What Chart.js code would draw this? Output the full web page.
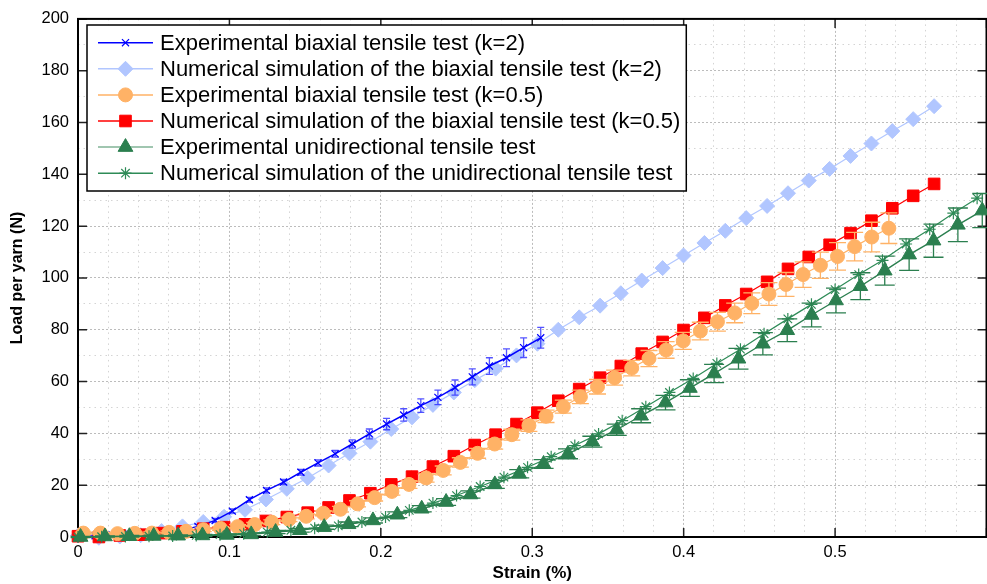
<!DOCTYPE html>
<html>
<head>
<meta charset="utf-8">
<script src="https://cdn.jsdelivr.net/npm/chart.js@4.4.1/dist/chart.umd.min.js"></script>
<style>
  html, body { margin: 0; padding: 0; background: #fff; overflow: hidden; }
  #wrap { width: 996px; height: 584px; }
</style>
</head>
<body>
<div id="wrap"><canvas id="chart" width="996" height="584"></canvas></div>
<script>
// legend text, in plot order
const legendLabels = [
    "Experimental biaxial tensile test (k=2)",
    "Numerical simulation of the biaxial tensile test (k=2)",
    "Experimental biaxial tensile test (k=0.5)",
    "Numerical simulation of the biaxial tensile test (k=0.5)",
    "Experimental unidirectional tensile test",
    "Numerical simulation of the unidirectional tensile test",
];

// experimental biaxial, k=2 (strain %, load N, +/- error N)
const strainExpK2 = [0, 0.0113, 0.0226, 0.034, 0.0453, 0.0566, 0.0679, 0.0792, 0.0906, 0.1019,
    0.1132, 0.1245, 0.1358, 0.1472, 0.1585, 0.1698, 0.1811, 0.1924, 0.2038, 0.2151,
    0.2264, 0.2377, 0.249, 0.2604, 0.2717, 0.283, 0.2943, 0.3056];
const loadExpK2 = [0, 0.5, 0.8, 1.0, 1.2, 1.6, 2.5, 4.1, 6.4, 10.0,
    14.4, 18.0, 21.2, 25.0, 28.6, 32.1, 35.9, 39.8, 43.6, 47.1,
    50.7, 53.9, 57.7, 61.8, 66.0, 69.2, 73.1, 76.9];
const errExpK2 = [0.3, 0.4, 0.4, 0.5, 0.5, 0.6, 0.6, 0.7, 0.8, 0.8,
    0.9, 1.0, 1.0, 1.1, 1.2, 1.3, 1.6, 1.9, 2.2, 2.4,
    2.6, 2.8, 2.9, 3.1, 3.2, 3.4, 3.8, 4.0];

// numerical simulations of the biaxial test share the same strain steps
const strainNum = [0, 0.0138, 0.0276, 0.0414, 0.0552, 0.069, 0.0827, 0.0965, 0.1103, 0.1241,
    0.1379, 0.1517, 0.1655, 0.1793, 0.1931, 0.2069, 0.2206, 0.2344, 0.2482, 0.262,
    0.2758, 0.2896, 0.3034, 0.3172, 0.331, 0.3448, 0.3585, 0.3723, 0.3861, 0.3999,
    0.4137, 0.4275, 0.4413, 0.4551, 0.4689, 0.4826, 0.4964, 0.5102, 0.524, 0.5378,
    0.5516, 0.5654];
const loadNumK2 = [0.6, -0.3, 0.2, 0.7, 2.3, 4.1, 5.8, 7.8, 10.5, 14.5,
    18.6, 22.8, 27.6, 32.3, 36.8, 41.7, 46.2, 51.0, 55.8, 60.5,
    65.0, 70.1, 74.6, 80.0, 84.8, 89.3, 94.1, 99.0, 103.8, 108.7,
    113.5, 118.2, 123.1, 127.8, 132.7, 137.6, 142.1, 147.1, 151.9, 156.7,
    161.3, 166.3];
const loadNumK05 = [0.3, 0, 0.6, 0.9, 1.5, 2.2, 3.2, 3.8, 4.9, 6.2,
    7.7, 9.4, 11.4, 14.1, 16.9, 20.3, 23.3, 27.2, 31.2, 35.5,
    39.5, 43.6, 48.0, 52.6, 57.1, 61.5, 66.0, 70.8, 75.3, 79.9,
    84.6, 89.4, 93.8, 98.5, 103.5, 108.1, 112.8, 117.3, 122.1, 126.9,
    131.7, 136.3];

// experimental biaxial, k=0.5
const strainExpK05 = [0.0035, 0.0148, 0.0261, 0.0375, 0.0488, 0.0601, 0.0714, 0.0827, 0.0941, 0.1054,
    0.1167, 0.128, 0.1393, 0.1507, 0.162, 0.1733, 0.1846, 0.1959, 0.2073, 0.2186,
    0.2299, 0.2412, 0.2525, 0.2639, 0.2752, 0.2865, 0.2978, 0.3091, 0.3205, 0.3318,
    0.3431, 0.3544, 0.3657, 0.3771, 0.3884, 0.3997, 0.411, 0.4223, 0.4337, 0.445,
    0.4563, 0.4676, 0.4789, 0.4903, 0.5016, 0.5129, 0.5242, 0.5355];
const loadExpK05 = [1.5, 1.5, 1.3, 1.4, 1.5, 1.8, 2.2, 2.8, 3.3, 4.0,
    4.8, 5.7, 6.8, 8.0, 9.2, 10.7, 12.8, 15.2, 17.6, 20.3,
    22.8, 25.7, 28.8, 32.3, 35.9, 39.5, 43.0, 46.6, 50.3, 54.1,
    58.0, 61.5, 65.2, 68.9, 72.2, 75.7, 79.5, 83.1, 86.5, 90.2,
    93.8, 97.5, 101.3, 104.9, 108.3, 112.1, 115.8, 119.2];
const errExpK05 = [0.4, 0.4, 0.5, 0.5, 0.5, 0.6, 0.6, 0.7, 0.7, 0.8,
    0.8, 0.9, 0.9, 1.0, 1.0, 1.1, 1.2, 1.3, 1.4, 1.5,
    1.6, 1.7, 1.8, 1.9, 2.0, 2.1, 2.2, 2.4, 2.5, 2.6,
    2.8, 2.9, 3.0, 3.1, 3.2, 3.3, 3.4, 3.6, 3.8, 4.0,
    4.4, 4.6, 4.9, 5.1, 5.3, 5.5, 5.7, 5.9];

// experimental unidirectional
const strainExpUni = [0.0017, 0.0178, 0.0339, 0.05, 0.0661, 0.0822, 0.0983, 0.1144, 0.1305, 0.1465,
    0.1626, 0.1787, 0.1948, 0.2109, 0.227, 0.2431, 0.2592, 0.2753, 0.2914, 0.3075,
    0.3236, 0.3397, 0.3558, 0.3719, 0.388, 0.4041, 0.4201, 0.4362, 0.4523, 0.4684,
    0.4845, 0.5006, 0.5167, 0.5328, 0.5489, 0.565, 0.5811, 0.5972];
const loadExpUni = [0, 0.2, 0.3, 0.4, 0.5, 0.6, 0.8, 1.0, 1.9, 2.6,
    3.8, 4.9, 6.4, 8.6, 10.9, 13.5, 16.4, 20.3, 24.4, 28.2,
    32.1, 36.8, 41.4, 46.8, 51.9, 57.5, 63.1, 68.8, 74.6, 79.8,
    85.7, 91.3, 96.8, 102.8, 109.0, 114.4, 120.5, 126.0];
const errExpUni = [0.2, 0.2, 0.3, 0.3, 0.3, 0.4, 0.4, 0.5, 0.6, 0.7,
    0.8, 0.9, 1.0, 1.1, 1.2, 1.3, 1.4, 1.5, 1.6, 1.7,
    1.9, 2.1, 2.2, 2.7, 2.8, 3.2, 3.5, 4.0, 4.3, 4.4,
    4.6, 4.8, 5.2, 5.6, 6.1, 6.4, 6.5, 6.6];

// numerical unidirectional
const strainNumUni = [0, 0.0156, 0.0313, 0.0469, 0.0625, 0.0781, 0.0938, 0.1094, 0.125, 0.1406,
    0.1563, 0.1719, 0.1875, 0.2031, 0.2188, 0.2344, 0.25, 0.2656, 0.2813, 0.2969,
    0.3125, 0.3281, 0.3438, 0.3594, 0.375, 0.3906, 0.4063, 0.4219, 0.4375, 0.4531,
    0.4688, 0.4844, 0.5, 0.5156, 0.5313, 0.5469, 0.5625, 0.5781, 0.5938];
const loadNumUni = [0, 0.1, 0.2, 0.3, 0.4, 0.6, 0.9, 1.3, 1.9, 2.6,
    3.4, 4.3, 5.8, 7.7, 10.3, 13.1, 16.0, 19.5, 23.1, 26.9,
    31.0, 35.3, 39.8, 44.9, 50.3, 55.8, 61.2, 67.0, 72.5, 78.5,
    84.2, 89.8, 95.5, 101.3, 106.8, 113.1, 118.8, 125.0, 130.8];

const FONT = "'Liberation Sans', Arial, Helvetica, sans-serif";
const MAJOR_GRID = "#bcbcbc";
const MINOR_GRID = "#d4d4d4";

function pts(xs, ys) {
    return xs.map((x, i) => ({ x: x, y: ys[i] }));
}
const isMajorX = v => Math.round(v * 100) % 10 === 0;
const isMajorY = v => Math.round(v) % 20 === 0;

// vertical error bars with caps, drawn under each dataset's markers
const errorBars = {
    id: "errorBars",
    beforeDatasetDraw(chart, args) {
        const ds = chart.data.datasets[args.index];
        if (!ds.errors) return;
        const { ctx, scales: { x, y } } = chart;
        ctx.save();
        ctx.strokeStyle = ds.errorColor;
        ctx.lineWidth = 1.3;
        ctx.beginPath();
        ds.data.forEach((p, i) => {
            const e = ds.errors[i];
            const px = x.getPixelForValue(p.x);
            const top = y.getPixelForValue(p.y + e);
            const bot = y.getPixelForValue(p.y - e);
            const w = ds.capWidth;
            ctx.moveTo(px, top); ctx.lineTo(px, bot);
            ctx.moveTo(px - w, top); ctx.lineTo(px + w, top);
            ctx.moveTo(px - w, bot); ctx.lineTo(px + w, bot);
        });
        ctx.stroke();
        ctx.restore();
    },
};

// matlab-like box with inward ticks
const frame = {
    id: "frame",
    beforeDatasetsDraw(chart) {
        const { ctx, chartArea: a, scales: { x, y } } = chart;
        ctx.save();
        ctx.strokeStyle = "#222";
        ctx.lineWidth = 1.5;
        ctx.beginPath();
        x.ticks.filter(t => isMajorX(t.value)).forEach(t => {
            const px = x.getPixelForValue(t.value);
            ctx.moveTo(px, a.bottom); ctx.lineTo(px, a.bottom - 9);
            ctx.moveTo(px, a.top); ctx.lineTo(px, a.top + 9);
        });
        y.ticks.filter(t => isMajorY(t.value)).forEach(t => {
            const py = y.getPixelForValue(t.value);
            ctx.moveTo(a.left, py); ctx.lineTo(a.left + 9, py);
            ctx.moveTo(a.right, py); ctx.lineTo(a.right - 9, py);
        });
        ctx.stroke();
        ctx.strokeStyle = "#000";
        ctx.lineWidth = 2;
        ctx.strokeRect(a.left, a.top, a.right - a.left, a.bottom - a.top);
        ctx.restore();
    },
};

// boxed legend in the upper left corner, line + marker samples
const boxLegend = {
    id: "boxLegend",
    afterDraw(chart) {
        const ctx = chart.ctx;
        const sets = chart.data.datasets;
        const left = 87, top = 25, rowH = 26.1, firstRow = 42.7;
        const textX = 160;
        ctx.save();
        ctx.font = "22px " + FONT;
        let maxW = 0;
        sets.forEach(ds => { maxW = Math.max(maxW, ctx.measureText(ds.label).width); });
        const right = textX + maxW + 6;
        const bottom = top + 166;
        ctx.fillStyle = "#fff";
        ctx.fillRect(left, top, right - left, bottom - top);
        ctx.strokeStyle = "#000";
        ctx.lineWidth = 1.5;
        ctx.strokeRect(left, top, right - left, bottom - top);
        sets.forEach((ds, i) => {
            const cy = firstRow + i * rowH;
            ctx.strokeStyle = ds.legendLine || ds.borderColor;
            ctx.lineWidth = 1.5;
            ctx.beginPath();
            ctx.moveTo(98, cy); ctx.lineTo(153, cy);
            ctx.stroke();
            ctx.fillStyle = ds.pointBackgroundColor;
            ctx.strokeStyle = ds.pointBorderColor;
            ctx.lineWidth = ds.pointBorderWidth;
            Chart.helpers.drawPoint(ctx, {
                pointStyle: ds.pointStyle, radius: ds.pointRadius, rotation: 0,
                borderWidth: ds.pointBorderWidth,
            }, 125.5, cy);
            ctx.fillStyle = "#000";
            ctx.textBaseline = "middle";
            ctx.textAlign = "left";
            ctx.fillText(ds.label, textX, cy + 1);
        });
        ctx.restore();
    },
};

const ctx = document.getElementById("chart").getContext("2d");
Chart.defaults.font.family = FONT;
Chart.defaults.color = "#000";

new Chart(ctx, {
    type: "scatter",
    data: {
        datasets: [
            {
                label: legendLabels[0],
                data: pts(strainExpK2, loadExpK2),
                errors: errExpK2, errorColor: "rgba(40,40,255,0.8)", capWidth: 3.5,
                showLine: true, borderColor: "#0000ff", borderWidth: 1.5,
                pointStyle: "crossRot", pointRadius: 5,
                pointBackgroundColor: "#0000ff", pointBorderColor: "#0000ff", pointBorderWidth: 1.2,
                order: 5, clip: false,
            },
            {
                label: legendLabels[1],
                data: pts(strainNum, loadNumK2),
                showLine: true, borderColor: "#b1c6ff", borderWidth: 1.2,
                pointStyle: "rectRot", pointRadius: 7.5,
                pointBackgroundColor: "#b1c6ff", pointBorderColor: "#b1c6ff", pointBorderWidth: 1,
                order: 6, clip: false,
            },
            {
                label: legendLabels[2],
                data: pts(strainExpK05, loadExpK05),
                errors: errExpK05, errorColor: "#ffb266", capWidth: 8.5,
                showLine: true, borderColor: "#ffb266", borderWidth: 1.2,
                pointStyle: "circle", pointRadius: 7,
                pointBackgroundColor: "#ffb266", pointBorderColor: "#ffb266", pointBorderWidth: 1,
                order: 3, clip: false,
            },
            {
                label: legendLabels[3],
                data: pts(strainNum, loadNumK05),
                showLine: true, borderColor: "#ff0000", borderWidth: 1.2,
                pointStyle: "rect", pointRadius: 8.2,
                pointBackgroundColor: "#ff0000", pointBorderColor: "#ff0000", pointBorderWidth: 1,
                order: 4, clip: false,
            },
            {
                label: legendLabels[4],
                data: pts(strainExpUni, loadExpUni),
                errors: errExpUni, errorColor: "#2b7f4f", capWidth: 10,
                showLine: true, borderColor: "#2b7f4f", borderWidth: 1.4,
                legendLine: "rgba(43,127,79,0.6)",
                pointStyle: "triangle", pointRadius: 8.5,
                pointBackgroundColor: "#2b7f4f", pointBorderColor: "#2b7f4f", pointBorderWidth: 1,
                order: 1, clip: false,
            },
            {
                label: legendLabels[5],
                data: pts(strainNumUni, loadNumUni),
                showLine: true, borderColor: "#2e8b57", borderWidth: 1.2,
                pointStyle: "star", pointRadius: 6,
                pointBackgroundColor: "#2e8b57", pointBorderColor: "#2e8b57", pointBorderWidth: 1.2,
                order: 2, clip: false,
            },
        ],
    },
    options: {
        responsive: false,
        maintainAspectRatio: false,
        devicePixelRatio: 1,
        animation: false,
        events: [],
        layout: { padding: { left: 0, top: 16, right: 2.7, bottom: 0 } },
        elements: { line: { tension: 0 } },
        plugins: {
            legend: { display: false },
            tooltip: { enabled: false },
        },
        scales: {
            x: {
                type: "linear",
                min: 0,
                max: 0.6,
                afterFit: s => { s.height = 47; },
                ticks: {
                    stepSize: 0.02,
                    autoSkip: false,
                    maxRotation: 0,
                    padding: 6,
                    color: "#000",
                    font: { size: 16.5 },
                    callback: v => {
                        const h = Math.round(v * 100);
                        return (h % 10 === 0 && h < 60) ? String(h / 100) : "";
                    },
                },
                grid: {
                    drawTicks: false,
                    lineWidth: 1,
                    color: c => (c.tick && isMajorX(c.tick.value)) ? MAJOR_GRID : MINOR_GRID,
                },
                border: {
                    display: false,
                    dash: c => (c.tick && isMajorX(c.tick.value)) ? [2, 2] : [1.5, 4],
                },
                title: {
                    display: true,
                    text: "Strain (%)",
                    color: "#000",
                    font: { size: 17, weight: "bold" },
                    padding: { top: 0, bottom: 0 },
                },
            },
            y: {
                type: "linear",
                min: 0,
                max: 200,
                afterFit: s => { s.width = 78; },
                ticks: {
                    stepSize: 10,
                    autoSkip: false,
                    padding: 9,
                    color: "#000",
                    font: { size: 16.5 },
                    callback: v => isMajorY(v) ? String(Math.round(v)) : "",
                },
                grid: {
                    drawTicks: false,
                    lineWidth: 1,
                    color: c => (c.tick && isMajorY(c.tick.value)) ? MAJOR_GRID : MINOR_GRID,
                },
                border: {
                    display: false,
                    dash: c => (c.tick && isMajorY(c.tick.value)) ? [2, 2] : [1.5, 4],
                },
                title: {
                    display: true,
                    text: "Load per yarn (N)",
                    color: "#000",
                    font: { size: 16, weight: "bold" },
                    padding: { top: 8, bottom: 0 },
                },
            },
        },
    },
    plugins: [errorBars, frame, boxLegend],
});
</script>
</body>
</html>
